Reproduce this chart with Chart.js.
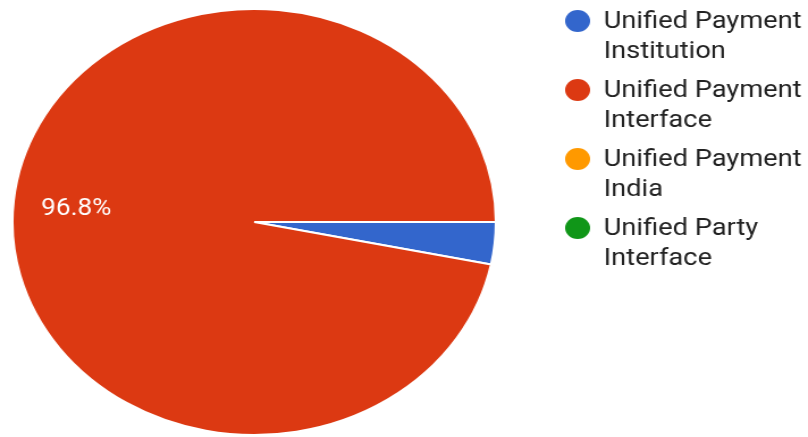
<!DOCTYPE html>
<html>
<head>
<meta charset="utf-8">
<script src="https://cdn.jsdelivr.net/npm/chart.js@4/dist/chart.umd.min.js"></script>
<style>
  html, body { margin: 0; padding: 0; background: #fff; overflow: hidden; }
  #wrap { width: 712px; height: 437px; transform: scaleX(1.1348); transform-origin: 0 0; }
</style>
</head>
<body>
<div id="wrap"><canvas id="chart-pie"></canvas></div>
<script>
var categorias = [
    ['Unified Payment', 'Institution'],
    ['Unified Payment', 'Interface'],
    ['Unified Payment', 'India'],
    ['Unified Party', 'Interface']
];
var valores = [3.2, 96.8, 0, 0];
var cores = ['#3366cc', '#dc3912', '#ff9900', '#109618'];

// rotulo de porcentagem dentro da fatia (so a maior aparece)
var pctLabels = {
    id: 'pctLabels',
    afterDatasetsDraw: function (chart) {
        var ctx = chart.ctx, meta = chart.getDatasetMeta(0);
        var total = valores.reduce(function (a, b) { return a + b; }, 0);
        ctx.save();
        ctx.font = '23px Roboto';
        ctx.fillStyle = '#ffffff';
        ctx.textAlign = 'center';
        ctx.textBaseline = 'middle';
        meta.data.forEach(function (arc, i) {
            var p = valores[i] / total * 100;
            if (p < 5) return;
            var pr = arc.getProps(['x', 'y', 'startAngle', 'endAngle', 'outerRadius'], true);
            var mid = (pr.startAngle + pr.endAngle) / 2;
            var r = pr.outerRadius * 0.74;
            ctx.fillText(p.toFixed(1) + '%', pr.x + Math.cos(mid) * r, pr.y + Math.sin(mid) * r + 3);
        });
        ctx.restore();
    }
};

// legenda com texto em duas linhas, no lado direito
var legendaLado = {
    id: 'legendaLado',
    afterDraw: function (chart) {
        var ctx = chart.ctx;
        var x0 = 509, xt = 532, y = 21;
        ctx.save();
        ctx.font = '24px Roboto';
        ctx.textBaseline = 'middle';
        ctx.textAlign = 'left';
        categorias.forEach(function (linhas, i) {
            ctx.fillStyle = cores[i];
            ctx.beginPath();
            ctx.arc(x0, y, 11, 0, Math.PI * 2);
            ctx.fill();
            ctx.fillStyle = '#222222';
            linhas.forEach(function (t, k) {
                ctx.fillText(t, xt, y + 1 + k * 30);
            });
            y += 69;
        });
        ctx.restore();
    }
};

var config = {
    type: 'pie',
    data: {
        labels: categorias,
        datasets: [{
            data: valores,
            backgroundColor: cores,
            borderColor: '#ffffff',
            borderWidth: 2
        }]
    },
    options: {
        responsive: true,
        maintainAspectRatio: false,
        animation: false,
        rotation: 90,
        layout: { padding: { left: 0, right: 264, top: 8, bottom: 1 } },
        plugins: {
            legend: { display: false },
            tooltip: { enabled: false }
        }
    },
    plugins: [pctLabels, legendaLado]
};

new Chart(document.getElementById('chart-pie'), config);
</script>
</body>
</html>
